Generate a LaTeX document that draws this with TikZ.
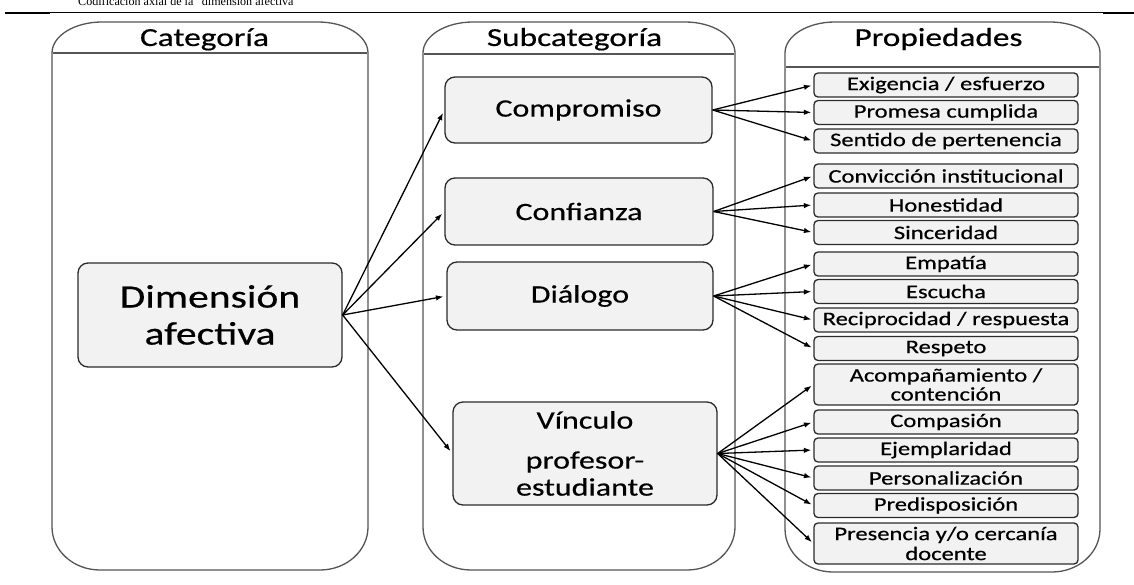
\documentclass[tikz,border=0pt]{standalone}
\usepackage{fontspec}
\setmainfont{Carlito}[FakeStretch=1.28,FakeBold=0.5]
\newfontfamily\capfont{Liberation Serif}
\usetikzlibrary{arrows.meta}

\definecolor{colline}{HTML}{555555}
\definecolor{boxline}{HTML}{2B2B2B}
\definecolor{boxfill}{HTML}{F2F2F2}

% rounded column frame: #1 left, #2 right, #3 top, #4 bottom
\newcommand{\colframe}[4]{%
  \draw[column] (#1,#4-43) -- (#1,#3+31)
    arc[start angle=180,end angle=270,x radius=50,y radius=31] -- (#2-50,#3)
    arc[start angle=270,end angle=360,x radius=50,y radius=31] -- (#2,#4-43)
    arc[start angle=0,end angle=90,x radius=48,y radius=43] -- (#1+48,#4)
    arc[start angle=90,end angle=180,x radius=48,y radius=43] -- cycle;}

\begin{document}
\begin{tikzpicture}[x=1pt,y=-1pt,
  column/.style={draw=colline, line width=1.3pt},
  hdr/.style={anchor=base, inner sep=0pt, font=\fontsize{26}{30}\selectfont},
  catbox/.style={draw=boxline, fill=boxfill, line width=1.3pt, rounded corners=10pt,
    align=center, inner sep=0pt},
  subfont/.style={font=\fontsize{25}{27}\selectfont},
  propbox/.style={draw=boxline, fill=boxfill, line width=1.3pt, rounded corners=4pt,
    minimum width=264pt, minimum height=24pt, inner sep=0pt, align=center,
    font=\fontsize{19.2}{19}\selectfont},
  link/.style={-{Latex[length=7.5pt,width=5.5pt]}, line width=1.3pt, shorten >=2pt},
]
\fill[white] (0,0) rectangle (1134,585);
\useasboundingbox (0,0) rectangle (1134,585);

% caption and table rule
\node[anchor=base west, inner sep=0pt, font=\capfont\fontsize{12.1}{14}\selectfont]
  (cap) at (78,5.5) {Codificación axial de la “dimensión afectiva”};
\draw[line width=1.4pt] (5,12.7) -- (1134,12.7);
\draw[line width=2.4pt] (5,13.2) -- (50,13.2);
\draw[line width=2.4pt] (1103,13.2) -- (1134,13.2);

% columns
\colframe{52}{368}{22}{570}
\colframe{423}{735}{22}{570}
\colframe{785}{1100}{22}{572}
\draw[column] (53,53) -- (367,53);
\draw[column] (424,54) -- (734,54);
\draw[column] (786,67) -- (1099,67);

\node[hdr] (h1) at (204.5,46) {Categoría};
\node[hdr] (h2) at (574.5,46) {Subcategoría};
\node[hdr] (h3) at (938.5,46) {Propiedades};

% category
\node[catbox, minimum width=264pt, minimum height=104pt,
  font=\fontsize{32.5}{37}\selectfont] (dim) at (210,315) {Dimensión\\afectiva};

% subcategories
\node[catbox, subfont, minimum width=267pt, minimum height=66pt] (comp) at (578.5,110) {Compromiso};
\node[catbox, subfont, minimum width=268pt, minimum height=67pt] (conf) at (579,211.5) {Confianza};
\node[catbox, subfont, minimum width=266pt, minimum height=68pt] (dial) at (580,296) {Diálogo};
\node[catbox, subfont, minimum width=264pt, minimum height=103pt] (vinc) at (585,453.5)
  {Vínculo\\[13pt]profesor-\\estudiante};

% properties
\node[propbox] (p1) at (946,85) {Exigencia / esfuerzo};
\node[propbox] (p2) at (946,112.5) {Promesa cumplida};
\node[propbox] (p3) at (946,141) {Sentido de pertenencia};
\node[propbox] (p4) at (946,176) {Convicción institucional};
\node[propbox] (p5) at (946,205) {Honestidad};
\node[propbox] (p6) at (946,232.5) {Sinceridad};
\node[propbox] (p7) at (946,264) {Empatía};
\node[propbox] (p8) at (946,291.5) {Escucha};
\node[propbox] (p9) at (946,320) {Reciprocidad / respuesta};
\node[propbox] (p10) at (946,348.5) {Respeto};
\node[propbox, minimum height=41pt] (p11) at (946,384.5) {Acompañamiento /\\contención};
\node[propbox] (p12) at (946,422) {Compasión};
\node[propbox] (p13) at (946,450) {Ejemplaridad};
\node[propbox] (p14) at (946,478) {Personalización};
\node[propbox] (p15) at (946,505.5) {Predisposición};
\node[propbox, minimum height=41pt, font=\fontsize{19.2}{20}\selectfont] (p16) at (946,543.5)
  {Presencia y/o cercanía\\docente};

% connectors
\foreach \t in {comp,conf,dial,vinc}
  \draw[link, shorten >=3pt] (dim.east) -- (\t.west);
\foreach \t in {p1,p2,p3}
  \draw[link] (comp.east) -- (\t.west);
\foreach \t in {p4,p5,p6}
  \draw[link] (conf.east) -- (\t.west);
\foreach \t in {p7,p8,p9,p10}
  \draw[link] (dial.east) -- (\t.west);
\foreach \t in {p11,p12,p13,p14,p15,p16}
  \draw[link] (vinc.east) -- (\t.west);
\end{tikzpicture}
\end{document}
